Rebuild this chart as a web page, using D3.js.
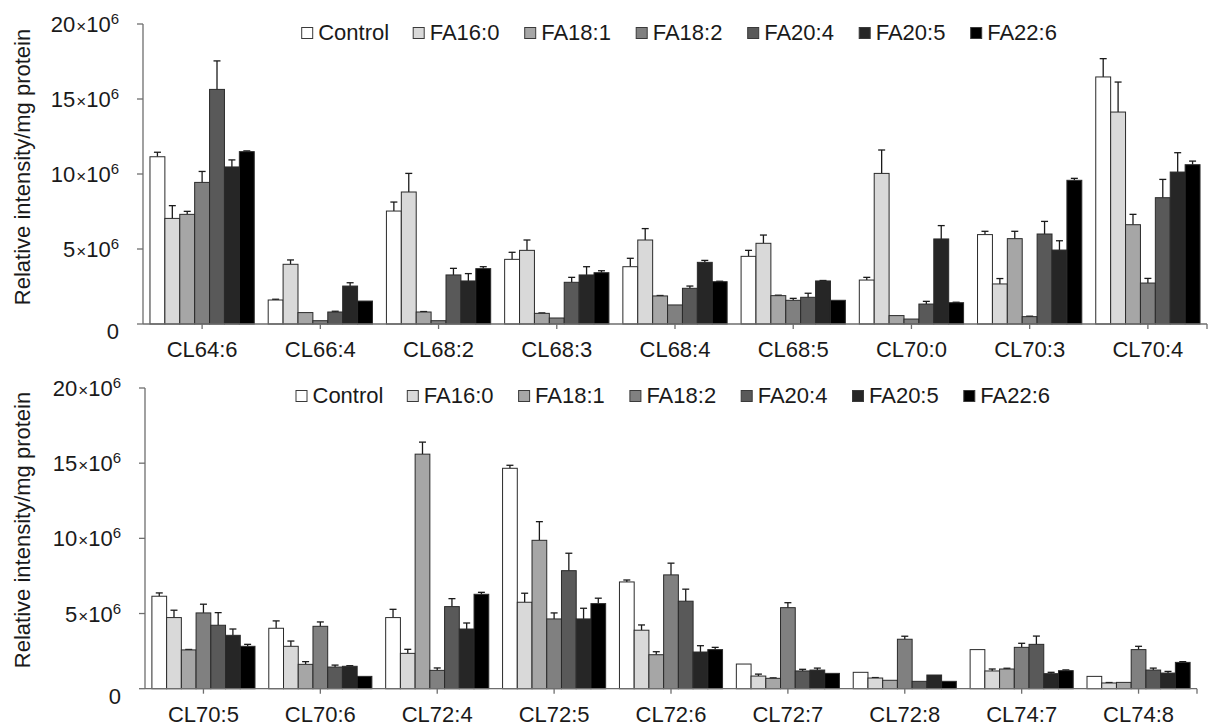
<!DOCTYPE html>
<html>
<head>
<meta charset="utf-8">
<script src="https://cdn.jsdelivr.net/npm/d3@7/dist/d3.min.js"></script>
<style>
  html, body { margin: 0; padding: 0; background: #fff; }
  svg { display: block; font-family: "Liberation Sans", Arial, sans-serif; }
</style>
</head>
<body>
<svg id="chart" width="1209" height="727"></svg>
<script>
// Cardiolipin species, relative intensity per mg protein (values in units of 10^6)
const series = ["Control", "FA16:0", "FA18:1", "FA18:2", "FA20:4", "FA20:5", "FA22:6"];
const seriesColors = ["#ffffff", "#d9d9d9", "#a6a6a6", "#808080", "#595959", "#262626", "#000000"];

const topCategories = ["CL64:6", "CL66:4", "CL68:2", "CL68:3", "CL68:4", "CL68:5", "CL70:0", "CL70:3", "CL70:4"];
const bottomCategories = ["CL70:5", "CL70:6", "CL72:4", "CL72:5", "CL72:6", "CL72:7", "CL72:8", "CL74:7", "CL74:8"];

// means: first nine belong to the upper panel, last nine to the lower panel
const control = [11.15, 1.6, 7.53, 4.31, 3.82, 4.51, 2.93, 5.96, 16.47, 6.15, 4.02, 4.73, 14.66, 7.1, 1.64, 1.09, 2.6, 0.82];
const fa160   = [7.04, 3.98, 8.8, 4.91, 5.6, 5.38, 10.04, 2.67, 14.13, 4.73, 2.82, 2.35, 5.75, 3.89, 0.84, 0.71, 1.18, 0.38];
const fa181   = [7.31, 0.76, 0.8, 0.71, 1.87, 1.89, 0.56, 5.69, 6.62, 2.58, 1.62, 15.6, 9.87, 2.26, 0.69, 0.56, 1.31, 0.42];
const fa182   = [9.44, 0.22, 0.22, 0.4, 1.27, 1.58, 0.33, 0.49, 2.73, 5.04, 4.15, 1.22, 4.64, 7.57, 5.39, 3.29, 2.75, 2.6];
const fa204   = [15.64, 0.8, 3.27, 2.78, 2.38, 1.78, 1.33, 6.0, 8.42, 4.22, 1.44, 5.46, 7.85, 5.82, 1.18, 0.49, 2.95, 1.24];
const fa205   = [10.47, 2.53, 2.87, 3.27, 4.11, 2.87, 5.67, 4.93, 10.13, 3.55, 1.49, 3.97, 4.64, 2.44, 1.24, 0.91, 1.0, 1.04];
const fa226   = [11.49, 1.53, 3.69, 3.42, 2.82, 1.58, 1.42, 9.58, 10.62, 2.82, 0.82, 6.28, 5.66, 2.6, 1.02, 0.49, 1.2, 1.75];

// standard errors (upper whisker only)
const controlErr = [0.3, 0.05, 0.6, 0.47, 0.56, 0.4, 0.18, 0.22, 1.22, 0.22, 0.49, 0.55, 0.2, 0.13, 0, 0, 0, 0];
const fa160Err   = [0.85, 0.29, 1.24, 0.69, 0.76, 0.55, 1.56, 0.36, 2.0, 0.49, 0.35, 0.27, 0.6, 0.35, 0.13, 0.03, 0.13, 0.03];
const fa181Err   = [0.2, 0, 0.03, 0.03, 0.03, 0.03, 0, 0.49, 0.69, 0.03, 0.18, 0.8, 1.24, 0.2, 0.03, 0, 0.05, 0];
const fa182Err   = [0.73, 0, 0, 0, 0, 0.13, 0, 0.03, 0.31, 0.58, 0.29, 0.16, 0.4, 0.78, 0.33, 0.2, 0.27, 0.22];
const fa204Err   = [1.9, 0.05, 0.44, 0.33, 0.15, 0.27, 0.18, 0.84, 1.22, 0.84, 0.13, 0.53, 1.16, 0.8, 0.11, 0, 0.55, 0.13];
const fa205Err   = [0.47, 0.22, 0.49, 0.55, 0.13, 0.03, 0.89, 0.62, 1.29, 0.42, 0.04, 0.4, 0.71, 0.42, 0.13, 0, 0.09, 0.11];
const fa226Err   = [0.05, 0, 0.13, 0.13, 0.03, 0, 0.03, 0.13, 0.24, 0.13, 0, 0.13, 0.36, 0.15, 0, 0, 0.05, 0.05];

const yTicks = [0, 5, 10, 15, 20];
const yTitle = "Relative intensity/mg protein";

const means = [control, fa160, fa181, fa182, fa204, fa205, fa226];
const errs = [controlErr, fa160Err, fa181Err, fa182Err, fa204Err, fa205Err, fa226Err];

const svg = d3.select("#chart");
const textColor = "#1a1a1a";
const axisColor = "#6e6e6e";
const fontSize = 22;

const panels = [
  { cats: topCategories, offset: 0, left: 143, right: 1207, y0: 324, yTop: 24,
    legendX: 301.7, legendStep: 111.5, legendBase: 40, titleY: 167, labelBase: 357 },
  { cats: bottomCategories, offset: 9, left: 145, right: 1197, y0: 688.7, yTop: 388,
    legendX: 296, legendStep: 111.3, legendBase: 403, titleY: 530, labelBase: 722 }
];

panels.forEach(p => {
  const g = svg.append("g");

  const x = d3.scaleBand().domain(p.cats).range([p.left, p.right]).paddingInner(0).paddingOuter(0);
  const y = d3.scaleLinear().domain([0, 20]).range([p.y0, p.yTop]);
  const groupW = x.bandwidth() * 0.882;
  const xs = d3.scaleBand().domain(series).range([0, groupW]);

  // y axis line and ticks
  g.append("line")
    .attr("x1", p.left).attr("x2", p.left)
    .attr("y1", y(0)).attr("y2", y(20))
    .attr("stroke", axisColor).attr("stroke-width", 1.3);
  g.selectAll(".ytick").data(yTicks).join("line")
    .attr("x1", p.left - 6).attr("x2", p.left)
    .attr("y1", d => y(d)).attr("y2", d => y(d))
    .attr("stroke", axisColor).attr("stroke-width", 1.3);

  // y tick labels in ×10^6 notation
  const yl = g.selectAll(".ylab").data(yTicks).join("text")
    .attr("x", p.left - 24)
    .attr("y", d => y(d) + (d === 0 ? 15 : 8))
    .attr("text-anchor", "end")
    .attr("fill", textColor)
    .attr("font-size", fontSize);
  yl.each(function(d) {
    const t = d3.select(this);
    if (d === 0) { t.text("0"); return; }
    t.append("tspan").text(d);
    t.append("tspan").attr("font-size", 17).attr("dx", 1).text("×");
    t.append("tspan").text("10");
    t.append("tspan").attr("font-size", 15).attr("dy", -8).text("6");
  });

  // y title
  g.append("text")
    .attr("transform", `translate(30,${p.titleY}) rotate(-90)`)
    .attr("text-anchor", "middle")
    .attr("fill", textColor)
    .attr("font-size", fontSize)
    .text(yTitle);

  // bars
  series.forEach((s, si) => {
    const vals = p.cats.map((c, ci) => ({
      cat: c, v: means[si][p.offset + ci], e: errs[si][p.offset + ci]
    }));
    const bx = d => x(d.cat) + (x.bandwidth() - groupW) / 2 + xs(s);

    // error whiskers behind the bars
    const eb = g.append("g");
    vals.filter(d => d.e > 0).forEach(d => {
      const cx = bx(d) + xs.bandwidth() / 2;
      eb.append("line")
        .attr("x1", cx).attr("x2", cx)
        .attr("y1", y(d.v)).attr("y2", y(d.v + d.e))
        .attr("stroke", "#1a1a1a").attr("stroke-width", 1.3);
      eb.append("line")
        .attr("x1", cx - 3.5).attr("x2", cx + 3.5)
        .attr("y1", y(d.v + d.e)).attr("y2", y(d.v + d.e))
        .attr("stroke", "#1a1a1a").attr("stroke-width", 1.3);
    });

    g.append("g").selectAll("rect").data(vals).join("rect")
      .attr("x", bx)
      .attr("y", d => y(d.v))
      .attr("width", xs.bandwidth())
      .attr("height", d => y(0) - y(d.v))
      .attr("fill", seriesColors[si])
      .attr("stroke", "#2a2a2a")
      .attr("stroke-width", 1);
  });

  // x axis
  g.append("line")
    .attr("x1", p.left).attr("x2", p.right)
    .attr("y1", y(0)).attr("y2", y(0))
    .attr("stroke", axisColor).attr("stroke-width", 1.3);
  const xTickPos = p.cats.map(c => x(c) + x.bandwidth() / 2).concat([p.right]);
  g.selectAll(".xtick").data(xTickPos).join("line")
    .attr("x1", d => d).attr("x2", d => d)
    .attr("y1", y(0)).attr("y2", y(0) + 5)
    .attr("stroke", axisColor).attr("stroke-width", 1.3);
  g.selectAll(".xlab").data(p.cats).join("text")
    .attr("x", c => x(c) + x.bandwidth() / 2)
    .attr("y", p.labelBase)
    .attr("text-anchor", "middle")
    .attr("fill", textColor)
    .attr("font-size", fontSize)
    .text(c => c);

  // legend
  const lg = g.selectAll(".leg").data(series).join("g")
    .attr("transform", (s, i) => `translate(${p.legendX + i * p.legendStep},${p.legendBase})`);
  lg.append("rect")
    .attr("x", 0).attr("y", -12.5)
    .attr("width", 11).attr("height", 11)
    .attr("fill", (s, i) => seriesColors[i])
    .attr("stroke", "#3a3a3a").attr("stroke-width", 1);
  lg.append("text")
    .attr("x", 16.5).attr("y", 0)
    .attr("fill", textColor)
    .attr("font-size", fontSize)
    .text(s => s);
});
</script>
</body>
</html>
